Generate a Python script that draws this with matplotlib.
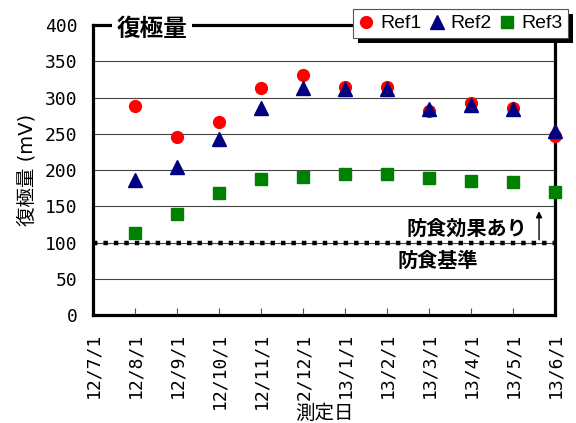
import numpy as np
import matplotlib
matplotlib.use("Agg")
import matplotlib.pyplot as plt
from matplotlib.patches import Rectangle

plt.rcParams['font.family'] = ['DejaVu Sans', 'Noto Sans CJK JP']

# measurement dates (category axis) and values in mV
dates = ['12/7/1', '12/8/1', '12/9/1', '12/10/1', '12/11/1', '12/12/1',
         '13/1/1', '13/2/1', '13/3/1', '13/4/1', '13/5/1', '13/6/1']
ref1 = [288, 246, 266, 313, 331, 315, 315, 282, 292, 285, 247]
ref2 = [186, 204, 243, 286, 313, 312, 312, 284, 289, 284, 254]
ref3 = [113, 140, 168, 188, 190, 194, 194, 189, 185, 183, 170]
criterion = 100
arrow_top = 147

x = np.arange(1, len(dates))

fig = plt.figure(figsize=(5.76, 4.23), dpi=100)
ax = fig.add_axes([93/576, 1-315/423, 462/576, 290/423])

ax.set_ylim(0, 400)
ax.set_xlim(0, len(dates) - 1)
ax.set_yticks(np.arange(0, 401, 50))
for v in np.arange(50, 400, 50):
    ax.axhline(v, color='#444444', lw=0.8, zorder=1)

ax.axhline(criterion, color='black', lw=3.2, dashes=(1.0, 1.35), zorder=2)

ax.plot(x, ref1, 'o', color='#ff0000', ms=8.5, label='Ref1', zorder=3, clip_on=False)
ax.plot(x, ref2, '^', color='#000080', ms=10.5, label='Ref2', zorder=4, clip_on=False)
ax.plot(x, ref3, 's', color='#008000', ms=9, label='Ref3', zorder=5, clip_on=False)

for s in ax.spines.values():
    s.set_linewidth(2.3)
    s.set_color('black')

ax.set_xticks(np.arange(len(dates)))
ax.set_xticklabels(dates, rotation=90, fontsize=13, family='DejaVu Sans Mono')
for lab in ax.get_yticklabels():
    lab.set_family('DejaVu Sans Mono')
ax.tick_params(axis='x', direction='in', length=5, width=0.8, color='#555555', pad=13)
ax.tick_params(axis='y', length=0, labelsize=13, pad=11)

ax.set_ylabel('復極量 (mV)', fontsize=14, labelpad=6)
ax.set_xlabel('測定日', fontsize=14,
              bbox=dict(facecolor='white', edgecolor='none', pad=1))
ax.xaxis.set_label_coords(0.5, -0.305)

# chart title sitting on the top frame
ax.text(0.128, 0.985, '復極量', transform=ax.transAxes, ha='center', va='center',
        fontsize=17, fontweight='bold',
        bbox=dict(facecolor='white', edgecolor='none', pad=3), zorder=6)

ax.text(10.33, 118, '防食効果あり', ha='right', va='center', fontsize=14.5, fontweight='bold')
ax.text(7.26, 74, '防食基準', ha='left', va='center', fontsize=14.5, fontweight='bold')
ax.annotate('', xy=(10.62, arrow_top), xytext=(10.62, criterion),
            arrowprops=dict(arrowstyle='-|>', color='black', lw=1, mutation_scale=9))

leg = fig.legend(loc='upper right', bbox_to_anchor=(568/576, 1-9/423),
                 ncol=3, prop={'family': 'Liberation Sans', 'size': 14},
                 handlelength=0.8, handletextpad=0.3,
                 columnspacing=0.4, borderpad=0.3, fancybox=False,
                 edgecolor='#555555', framealpha=1, borderaxespad=0)
leg.get_frame().set_linewidth(0.8)
leg.set_zorder(10)

# solid black drop shadow behind the legend box
fig.canvas.draw()
bb = leg.get_frame().get_window_extent().transformed(fig.transFigure.inverted())
shadow = Rectangle((bb.x0 + 5/576, bb.y0 - 5/423), bb.width, bb.height,
                   transform=fig.transFigure, facecolor='black',
                   edgecolor='none', zorder=9)
fig.add_artist(shadow)

fig.savefig('out.png', dpi=100)
